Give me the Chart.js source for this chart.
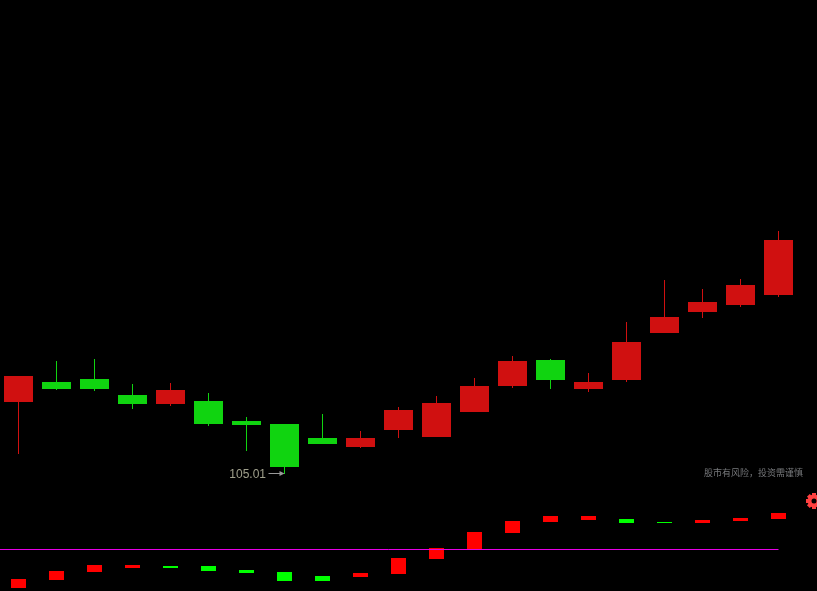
<!DOCTYPE html>
<html>
<head>
<meta charset="utf-8">
<style>
html, body { margin: 0; padding: 0; background: #000; overflow: hidden; }
canvas { display: block; }
</style>
<script src="https://cdn.jsdelivr.net/npm/chart.js@4"></script>
</head>
<body>
<canvas id="kline" width="817" height="591" style="width:817px;height:591px"></canvas>
<script>
const opens = [112.21, 114.21, 114.51, 112.91, 112.01, 112.31, 110.31, 110.01, 108.61, 107.71, 109.41, 108.71, 111.21, 113.81, 116.41, 113.51, 114.41, 119.11, 121.21, 121.91, 122.91]
const closes = [114.81, 113.51, 113.51, 112.01, 113.41, 110.01, 109.91, 105.71, 108.01, 108.61, 111.41, 112.11, 113.81, 116.31, 114.41, 114.21, 118.21, 120.71, 122.21, 123.91, 128.41]
const highs = [114.81, 116.31, 116.51, 114.01, 114.11, 113.11, 110.71, 110.01, 111.01, 109.31, 111.71, 112.81, 114.61, 116.81, 116.51, 115.11, 120.21, 124.41, 123.51, 124.51, 129.31]
const lows = [107.01, 113.41, 113.31, 111.51, 111.81, 109.81, 107.31, 105.01, 108.01, 107.61, 108.61, 108.71, 111.21, 113.61, 113.51, 113.21, 114.21, 119.11, 120.61, 121.71, 122.71]
// lower panel, floating bars
const lowerFrom = [-39, -31, -23, -19, -19, -22, -24, -32, -32, -28, -25, -10, 0, 16, 27, 29, 26, 26, 26, 28, 30]
const lowerTo = [-30, -22, -16, -16, -17, -17, -21, -23, -27, -24, -9, 1, 17, 28, 33, 33, 30, 27, 29, 31, 36]
const lowerUp = [1, 1, 1, 1, 0, 0, 0, 0, 0, 1, 1, 1, 1, 1, 1, 1, 0, 0, 1, 1, 1]
const zeroLine = [-0.5, -0.5]
const zeroLineX = [-1, 20]
const lowLabel = '105.01'
const riskText = '股市有风险，投资需谨慎'

const candleRed = 'rgb(208,16,16)'
const candleGreen = 'rgb(16,212,16)'
const idx = opens.map((v, i) => i)
const candleColors = idx.map(i => closes[i] >= opens[i] ? candleRed : candleGreen)

const overlay = {
    id: 'overlay',
    afterDatasetsDraw(chart) {
        const ctx = chart.ctx
        const x = chart.scales.x.getPixelForValue(7)
        const y = chart.scales.y.getPixelForValue(lows[7])
        ctx.save()
        // low price label and arrow
        ctx.font = '12px "Liberation Sans"'
        ctx.textBaseline = 'middle'
        ctx.textAlign = 'right'
        ctx.fillStyle = '#a0a08c'
        ctx.fillText(lowLabel, x - 18.5, y + 1)
        ctx.strokeStyle = '#999'
        ctx.lineWidth = 1
        ctx.beginPath()
        ctx.moveTo(x - 16, y - 0.5)
        ctx.lineTo(x - 2, y - 0.5)
        ctx.stroke()
        ctx.fillStyle = '#999'
        ctx.beginPath()
        ctx.moveTo(x - 5, y - 3)
        ctx.lineTo(x, y - 0.5)
        ctx.lineTo(x - 5, y + 2)
        ctx.fill()
        // risk note
        ctx.font = '9px "Noto Sans CJK SC"'
        ctx.textAlign = 'left'
        ctx.fillStyle = '#77797c'
        ctx.fillText(riskText, 704, 473)
        // settings gear, cut off by the right edge
        const gx = 814, gy = 501
        ctx.fillStyle = '#ff4040'
        for (let t = 0; t < 8; t++) {
            ctx.save()
            ctx.translate(gx, gy)
            ctx.rotate(t * Math.PI / 4)
            ctx.fillRect(-2, -8, 4, 4)
            ctx.restore()
        }
        ctx.strokeStyle = '#ff4040'
        ctx.lineWidth = 4
        ctx.beginPath()
        ctx.arc(gx, gy, 4.5, 0, Math.PI * 2)
        ctx.stroke()
        ctx.restore()
    }
}

const myChart = new Chart(document.getElementById('kline').getContext('2d'), {
    type: 'bar',
    data: {
        datasets: [{
            label: 'wick',
            data: idx.map(i => ({ x: i, y: [lows[i], highs[i]] })),
            backgroundColor: candleColors,
            barThickness: 1,
            order: 3,
        }, {
            label: 'body',
            data: idx.map(i => ({ x: i, y: [opens[i], closes[i]] })),
            backgroundColor: candleColors,
            barThickness: 29,
            order: 2,
        }, {
            label: 'lower',
            yAxisID: 'y2',
            data: idx.map(i => ({ x: i, y: [lowerFrom[i], lowerTo[i]] })),
            backgroundColor: idx.map(i => lowerUp[i] ? '#ff0000' : '#00ff00'),
            barThickness: 15,
            order: 2,
        }, {
            type: 'line',
            label: 'zero',
            yAxisID: 'y2',
            data: zeroLineX.map((x, i) => ({ x: x, y: zeroLine[i] })),
            borderColor: '#e600e6',
            borderWidth: 1,
            pointRadius: 0,
            order: 1,
        }]
    },
    options: {
        responsive: false,
        devicePixelRatio: 1,
        animation: false,
        layout: { padding: 0 },
        grouped: false,
        inflateAmount: 0,
        borderWidth: 0,
        scales: {
            x: { type: 'linear', display: false, offset: false, min: -18.5 / 38, max: (817 - 18.5) / 38 },
            y: { display: false, min: 93.31, max: 152.41 },
            y2: { display: false, min: -42, max: 549 },
        },
        plugins: {
            legend: { display: false },
            tooltip: { enabled: false },
        }
    },
    plugins: [overlay]
});
</script>
</body>
</html>
